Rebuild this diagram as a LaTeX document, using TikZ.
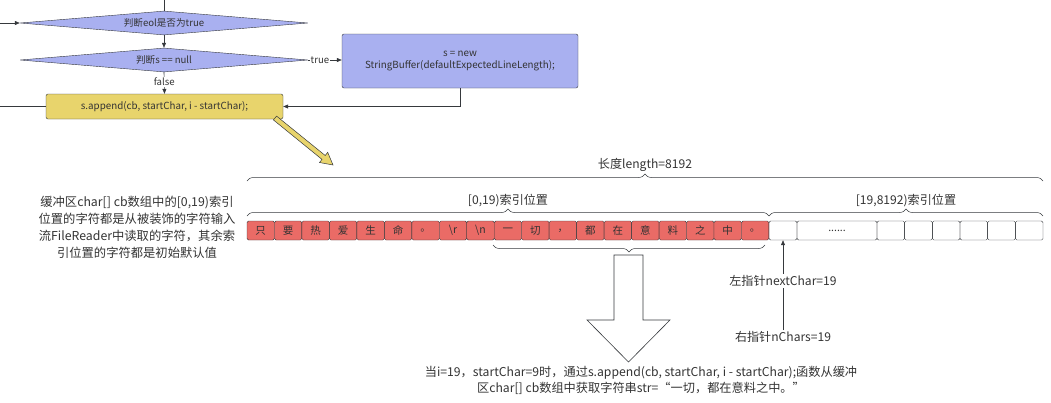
\documentclass[tikz,border=0pt]{standalone}
\usepackage{fontspec}
\setmainfont{Noto Sans CJK SC}
\usetikzlibrary{shapes.geometric,arrows.meta,decorations.pathreplacing}
\definecolor{blu}{HTML}{A9B0F0}
\definecolor{yel}{HTML}{E8D46C}
\definecolor{redc}{HTML}{EA6B66}
\definecolor{ln}{HTML}{36393D}
\definecolor{txt}{HTML}{333333}
\tikzset{
  flow/.style={draw=ln, line width=0.6pt},
  arr/.style={flow, -{Triangle[length=5pt,width=4pt]}},
  dia/.style={diamond, draw=ln, fill=blu, inner sep=0pt, aspect=12, minimum width=288pt, minimum height=24pt, font=\fontsize{9.6}{11}\selectfont, text=txt},
  proc/.style={draw=ln, rounded corners=2pt, inner sep=2pt, font=\fontsize{9.8}{12}\selectfont, text=txt, align=center},
  elab/.style={fill=white, inner sep=1pt, font=\fontsize{9.6}{11}\selectfont, text=txt},
  cell/.style={draw=ln, rounded corners=1.5pt, inner sep=0pt, minimum height=19pt, font=\fontsize{10.5}{12}\selectfont, text=txt},
  lab/.style={font=\fontsize{12.1}{14}\selectfont, text=txt, inner sep=1pt},
  brc/.style={draw=ln, line width=0.5pt, decorate, decoration={brace, amplitude=7pt}},
}
\begin{document}
\begin{tikzpicture}[x=1pt,y=-1pt]
\useasboundingbox (0,0) rectangle (1051,402);
% flowchart
\node[dia] (d1) at (164,23) {判断eol是否为true};
\node[dia] (d2) at (164,60) {判断s == null};
\node[proc, fill=blu, minimum width=236pt, minimum height=54pt] (sb) at (460,61) {s = new\\StringBuffer(defaultExpectedLineLength);};
\node[proc, fill=yel, minimum width=237pt, minimum height=25pt] (ap) at (164.5,106.5) {s.append(cb, startChar, i - startChar);};
\coordinate (top) at (164,0);
\coordinate (lin) at (0,23);
\coordinate (lout) at (0,106.5);
\draw[flow] (top) -- (d1.north);
\draw[arr] (lin) -- (d1.west);
\draw[arr] (d1.south) -- (d2.north);
\draw[arr] (d2.east) -- node[elab, pos=0.35] {true} (d2.east -| sb.west);
\draw[arr] (d2.south) -- node[elab, pos=0.45] {false} (ap.north);
\draw[arr] (sb.south) |- (ap.east);
\draw[flow] (ap.west) -- (lout);
% yellow block arrow
\draw[draw=ln, fill=yel, line width=0.5pt, line join=miter]
  (273.4,119.9) -- (322.0,159.4) -- (319.5,162.5) -- (333,165) -- (327.7,152.3) -- (325.2,155.5) -- (276.6,116.1) -- cycle;
% left description
\node[lab, align=center, font=\fontsize{12.3}{17}\selectfont] (desc) at (137,227) {缓冲区char[] cb数组中的[0,19)索引\\位置的字符都是从被装饰的字符输入\\流FileReader中读取的字符，其余索\\引位置的字符都是初始默认值};
% cells
\foreach \ch [count=\i] in {只,要,热,爱,生,命,。,\textbackslash r,\textbackslash n,一,切,，,都,在,意,料,之,中,。}{
  \node[cell, fill=redc, minimum width=27.47pt] (c\i) at ({247+27.47*(\i-0.5)},230.5) {\ch};
}
\node[cell, minimum width=28pt] (w1) at (783,230.5) {};
\node[cell, minimum width=80pt] (w2) at (837,230.5) {......};
\foreach \k in {3,...,8}{
  \node[cell, minimum width=27.67pt] (w\k) at ({877+27.67*(\k-2.5)},230.5) {};
}
% braces
\draw[brc] (247,181) -- (1043,181) node[midway, above=8pt, lab] (len) {长度length=8192};
\draw[brc] (247,216) -- (769,216) node[midway, above=8pt, lab] (l1) {[0,19)索引位置};
\draw[brc] (769,216) -- (1043,216) node[midway, above=8pt, lab] (l2) {[19,8192)索引位置};
\draw[brc] (765,245) -- (493,245) coordinate[midway] (bm);
% big hollow arrow
\draw[draw=ln, fill=white, line width=0.6pt] (614,255) -- (643,255) -- (643,320) -- (670,320) -- (628.5,362) -- (587,320) -- (614,320) -- cycle;
\node[lab, align=center, font=\fontsize{12.2}{16}\selectfont] (res) at (641,380) {当i=19，startChar=9时，通过s.append(cb, startChar, i - startChar);函数从缓冲\\区char[] cb数组中获取字符串str=“一切，都在意料之中。”};
% pointers
\node[lab] (nc) at (783,337) {右指针nChars=19};
\draw[arr] (nc.north) -- (w1.south);
\node[lab, fill=white] (nx) at (783,281) {左指针nextChar=19};
\end{tikzpicture}
\end{document}
